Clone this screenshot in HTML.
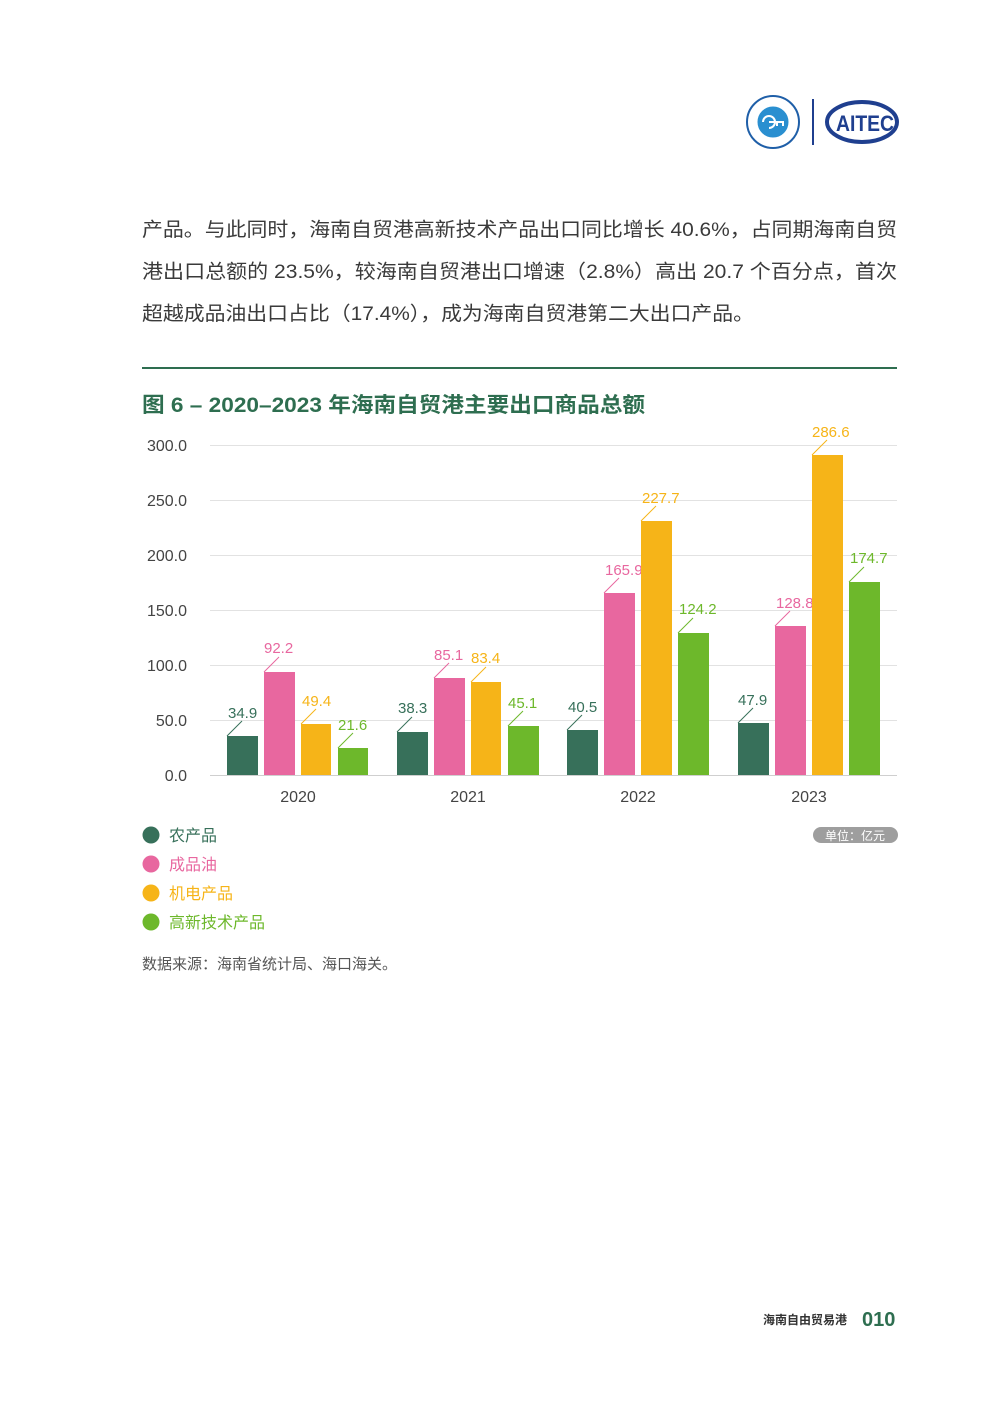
<!DOCTYPE html>
<html><head><meta charset="utf-8"><style>
html,body{margin:0;padding:0;background:#fff;}
svg{display:block;font-family:"Liberation Sans","Noto Sans CJK SC",sans-serif;}
</style></head><body>
<svg width="992" height="1403" viewBox="0 0 992 1403" xmlns="http://www.w3.org/2000/svg">
<g>
<circle cx="773" cy="122" r="26" fill="#fff" stroke="#1f5fa8" stroke-width="2"/>
<circle cx="773" cy="122" r="16" fill="#2a8fd0"/>
<circle cx="773" cy="122" r="16" fill="none" stroke="#fff" stroke-width="1"/>
<path d="M763 122 a6 6 0 1 1 6 6 M769 122 h14 v4 M777 122 v4" stroke="#fff" stroke-width="2" fill="none"/>
<line x1="813" y1="99" x2="813" y2="145" stroke="#1f3f8f" stroke-width="2"/>
<ellipse cx="862" cy="122" rx="35" ry="20" fill="none" stroke="#1f3f8f" stroke-width="4"/>
<text x="836" y="131" font-size="22" font-weight="bold" fill="#1f3f8f" textLength="58" lengthAdjust="spacingAndGlyphs">AITEC</text>
</g>
<g font-size="19.5" fill="#3a3a3a">
<text x="142" y="236" textLength="755" lengthAdjust="spacingAndGlyphs">产品。与此同时，海南自贸港高新技术产品出口同比增长 40.6%，占同期海南自贸</text>
<text x="142" y="278" textLength="755" lengthAdjust="spacingAndGlyphs">港出口总额的 23.5%，较海南自贸港出口增速（2.8%）高出 20.7 个百分点，首次</text>
<text x="142" y="320" textLength="612" lengthAdjust="spacingAndGlyphs">超越成品油出口占比（17.4%），成为海南自贸港第二大出口产品。</text>
</g>
<line x1="142" y1="368" x2="897" y2="368" stroke="#2e6e50" stroke-width="2"/>
<text x="142" y="412" font-size="21" font-weight="bold" fill="#2e6e50" textLength="503" lengthAdjust="spacingAndGlyphs">图 6 – 2020–2023 年海南自贸港主要出口商品总额</text>
<g stroke="#e2e2e2" stroke-width="1">
<line x1="210" y1="445.5" x2="897" y2="445.5"/>
<line x1="210" y1="500.5" x2="897" y2="500.5"/>
<line x1="210" y1="555.5" x2="897" y2="555.5"/>
<line x1="210" y1="610.5" x2="897" y2="610.5"/>
<line x1="210" y1="665.5" x2="897" y2="665.5"/>
<line x1="210" y1="720.5" x2="897" y2="720.5"/>
<line x1="210" y1="775.5" x2="897" y2="775.5" stroke="#cfcfcf"/>
</g>
<g font-size="16" fill="#444" text-anchor="end">
<text x="187" y="451">300.0</text><text x="187" y="506">250.0</text><text x="187" y="561">200.0</text>
<text x="187" y="616">150.0</text><text x="187" y="671">100.0</text><text x="187" y="726">50.0</text><text x="187" y="781">0.0</text>
</g>
<g font-size="16" fill="#444" text-anchor="middle">
<text x="298" y="802">2020</text><text x="468" y="802">2021</text><text x="638" y="802">2022</text><text x="809" y="802">2023</text>
</g>
<g font-size="15">
<rect x="227" y="736" width="31" height="39" fill="#37705a"/><line x1="227" y1="736" x2="242" y2="721" stroke="#37705a"/><text x="228" y="718" fill="#37705a">34.9</text>
<rect x="264" y="672" width="31" height="103" fill="#e8679f"/><line x1="264" y1="672" x2="279" y2="657" stroke="#e8679f"/><text x="264" y="653" fill="#e8679f">92.2</text>
<rect x="301" y="724" width="30" height="51" fill="#f6b418"/><line x1="301" y1="724" x2="316" y2="709" stroke="#f6b418"/><text x="302" y="706" fill="#f6b418">49.4</text>
<rect x="338" y="748" width="30" height="27" fill="#6db82b"/><line x1="338" y1="748" x2="353" y2="733" stroke="#6db82b"/><text x="338" y="730" fill="#6db82b">21.6</text>
<rect x="397" y="732" width="31" height="43" fill="#37705a"/><line x1="397" y1="732" x2="412" y2="717" stroke="#37705a"/><text x="398" y="713" fill="#37705a">38.3</text>
<rect x="434" y="678" width="31" height="97" fill="#e8679f"/><line x1="434" y1="678" x2="449" y2="663" stroke="#e8679f"/><text x="434" y="660" fill="#e8679f">85.1</text>
<rect x="471" y="682" width="30" height="93" fill="#f6b418"/><line x1="471" y1="682" x2="486" y2="667" stroke="#f6b418"/><text x="471" y="663" fill="#f6b418">83.4</text>
<rect x="508" y="726" width="31" height="49" fill="#6db82b"/><line x1="508" y1="726" x2="523" y2="711" stroke="#6db82b"/><text x="508" y="708" fill="#6db82b">45.1</text>
<rect x="567" y="730" width="31" height="45" fill="#37705a"/><line x1="567" y1="730" x2="582" y2="715" stroke="#37705a"/><text x="568" y="712" fill="#37705a">40.5</text>
<rect x="604" y="593" width="31" height="182" fill="#e8679f"/><line x1="604" y1="593" x2="619" y2="578" stroke="#e8679f"/><text x="605" y="575" fill="#e8679f">165.9</text>
<rect x="641" y="521" width="31" height="254" fill="#f6b418"/><line x1="641" y1="521" x2="656" y2="506" stroke="#f6b418"/><text x="642" y="503" fill="#f6b418">227.7</text>
<rect x="678" y="633" width="31" height="142" fill="#6db82b"/><line x1="678" y1="633" x2="693" y2="618" stroke="#6db82b"/><text x="679" y="614" fill="#6db82b">124.2</text>
<rect x="738" y="723" width="31" height="52" fill="#37705a"/><line x1="738" y1="723" x2="753" y2="708" stroke="#37705a"/><text x="738" y="705" fill="#37705a">47.9</text>
<rect x="775" y="626" width="31" height="149" fill="#e8679f"/><line x1="775" y1="626" x2="790" y2="611" stroke="#e8679f"/><text x="776" y="608" fill="#e8679f">128.8</text>
<rect x="812" y="455" width="31" height="320" fill="#f6b418"/><line x1="812" y1="455" x2="827" y2="440" stroke="#f6b418"/><text x="812" y="437" fill="#f6b418">286.6</text>
<rect x="849" y="582" width="31" height="193" fill="#6db82b"/><line x1="849" y1="582" x2="864" y2="567" stroke="#6db82b"/><text x="850" y="563" fill="#6db82b">174.7</text>
</g>
<g font-size="16">
<circle cx="151" cy="835" r="8.5" fill="#37705a"/><text x="169" y="841" fill="#37705a">农产品</text>
<circle cx="151" cy="864" r="8.5" fill="#e8679f"/><text x="169" y="870" fill="#e8679f">成品油</text>
<circle cx="151" cy="893" r="8.5" fill="#f6b418"/><text x="169" y="899" fill="#f6b418">机电产品</text>
<circle cx="151" cy="922" r="8.5" fill="#6db82b"/><text x="169" y="928" fill="#6db82b">高新技术产品</text>
</g>
<rect x="813" y="827" width="85" height="16" rx="8" fill="#9e9e9e"/>
<text x="855" y="840" font-size="12" fill="#fff" text-anchor="middle">单位：亿元</text>
<text x="142" y="969" font-size="15" fill="#555">数据来源：海南省统计局、海口海关。</text>
<text x="763" y="1324" font-size="12" font-weight="bold" fill="#333">海南自由贸易港</text>
<text x="862" y="1326" font-size="20" font-weight="bold" fill="#2e6e50">010</text>
</svg>
</body></html>
